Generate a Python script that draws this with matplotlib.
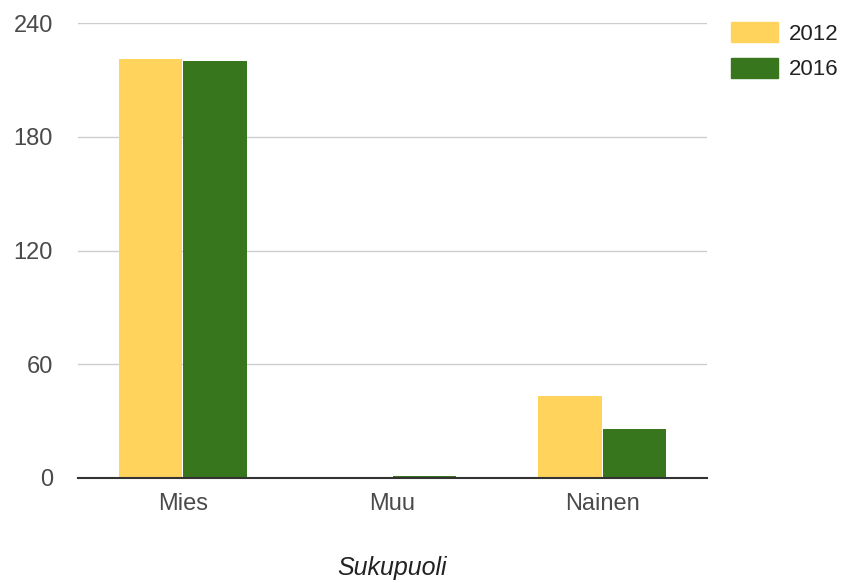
import numpy as np
import matplotlib.pyplot as plt
from matplotlib.patches import Patch

plt.rcParams['font.family'] = ['Liberation Sans', 'DejaVu Sans']

# Data
categories = ["Mies", "Muu", "Nainen"]
years = ["2012", "2016"]
values_2012 = [221, 0, 43]
values_2016 = [220, 1, 26]
y_ticks = [0, 60, 120, 180, 240]

colors = ["#FFD35C", "#38761D"]

fig = plt.figure(figsize=(8.48, 5.83), dpi=100)
ax = fig.add_axes([78 / 848, 1 - 478 / 583, 629 / 848, 455 / 583])

x = np.arange(len(categories))
w = 0.302
ax.bar(x - w / 2 - 0.003, values_2012, width=w, color=colors[0], zorder=2)
ax.bar(x + w / 2 + 0.003, values_2016, width=w, color=colors[1], zorder=2)

ax.set_xlim(-0.5, 2.5)
ax.set_ylim(0, 240)
ax.set_yticks(y_ticks)
ax.set_xticks(x)
ax.set_xticklabels(categories)
ax.tick_params(axis="both", length=0, labelsize=17, labelcolor="#4a4a4a")
ax.tick_params(axis="y", pad=18)
ax.tick_params(axis="x", pad=11)

ax.grid(axis="y", color="#cccccc", linewidth=1, zorder=0)
for s in ["top", "right", "left"]:
    ax.spines[s].set_visible(False)
ax.spines["bottom"].set_color("#333333")
ax.spines["bottom"].set_linewidth(1.5)
ax.spines["bottom"].set_zorder(3)

ax.set_xlabel("Sukupuoli", fontsize=18, style="italic", color="#222222")
ax.xaxis.set_label_coords(0.5, -(556 - 478) / 455)

handles = [Patch(color=c, label=y) for c, y in zip(colors, years)]
fig.legend(handles=handles, loc="upper left", bbox_to_anchor=(731 / 848, 1 - 22 / 583),
           frameon=False, fontsize=16, handlelength=2.1, handleheight=1.0,
           labelspacing=0.6, handletextpad=0.5, borderpad=0, borderaxespad=0,
           labelcolor="#222222")

fig.savefig("out.png", dpi=100)
